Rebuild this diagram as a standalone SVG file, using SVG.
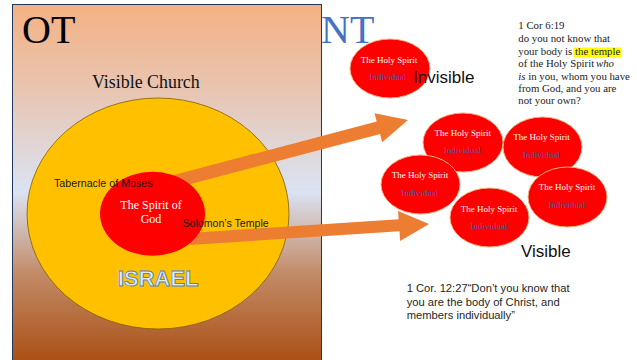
<svg xmlns="http://www.w3.org/2000/svg" width="637" height="360" viewBox="0 0 637 360">
<defs>
<linearGradient id="otGrad" x1="0" y1="0" x2="0" y2="1">
<stop offset="0" stop-color="#F4B183"/>
<stop offset="0.25" stop-color="#E8C6B4"/>
<stop offset="0.52" stop-color="#DAE3F3"/>
<stop offset="0.75" stop-color="#C28A66"/>
<stop offset="1" stop-color="#A94E12"/>
</linearGradient>
<style>
.serif{font-family:"Liberation Serif","Times New Roman",serif;}
.sans{font-family:"Liberation Sans",Arial,sans-serif;}
.hs{fill:#FF0000;stroke:#F4B183;stroke-width:1;}
.hsT{font-family:"Liberation Serif","Times New Roman",serif;font-size:9px;fill:#FFFFFF;text-anchor:middle;}
.hsI{font-family:"Liberation Serif","Times New Roman",serif;font-size:9px;fill:#4A5AA8;text-anchor:middle;}
.arrow{fill:#ED7D31;}
.label{font-family:"Liberation Sans",Arial,sans-serif;fill:#1a1a1a;}
.verse{font-family:"Liberation Serif","Times New Roman",serif;font-size:10.8px;fill:#222222;}
</style>
</defs>
<rect width="637" height="360" fill="#FFFFFF"/>

<g id="ot-panel">
<rect x="12.5" y="4.5" width="309" height="360" fill="url(#otGrad)" stroke="#203864" stroke-width="1"/>
<text class="serif" x="22" y="43" font-size="40" fill="#000000">OT</text>
<text class="serif" x="92" y="88" font-size="17.9" fill="#111111">Visible Church</text>
</g>

<g id="israel">
<ellipse cx="158" cy="213.5" rx="131" ry="115.5" fill="#FFC000" stroke="#7F6000" stroke-width="0.8"/>
<text x="158" y="286" font-family="'Liberation Sans',Arial,sans-serif" font-size="22" font-weight="bold" fill="#DDEBF7" stroke="#4F81C7" stroke-width="0.8" text-anchor="middle">ISRAEL</text>
</g>

<g id="connectors">
<polygon class="arrow" points="168.3,176.5 376.7,121.5 374.6,113.3 408,120 382.2,142.3 380.1,133.9 171.7,189.1"/>
<polygon class="arrow" points="189.6,233 398.6,219.2 398.1,211 429,224 400.1,241 399.5,231.2 190.4,245"/>
</g>

<g id="spirit-of-god">
<ellipse cx="152.5" cy="213.7" rx="52.5" ry="42" fill="#FF0000"/>
<text class="serif" x="151" y="209.3" font-size="12" fill="#FFFFFF" text-anchor="middle">The Spirit of</text>
<text class="serif" x="151" y="222.7" font-size="12" fill="#FFFFFF" text-anchor="middle">God</text>
</g>

<g id="ot-labels">
<text class="label" x="54" y="187" font-size="10.7">Tabernacle of Moses</text>
<text class="label" x="182.5" y="227" font-size="10.6">Solomon’s Temple</text>
</g>

<g id="nt-title">
<text class="serif" x="321" y="43" font-size="40" fill="#4472C4">NT</text>
</g>

<g id="hs-invisible">
<ellipse class="hs" cx="390" cy="68.5" rx="40" ry="29.5"/>
<text class="hsT" x="389" y="63">The Holy Spirit</text>
<text class="hsI" x="388" y="80">Individual</text>
</g>
<g id="invisible-label">
<text class="sans" x="413" y="83" font-size="17" fill="#111111">Invisible</text>
</g>

<g id="hs-a">
<ellipse class="hs" cx="463" cy="142.5" rx="40" ry="29.5"/>
<text class="hsT" x="462.7" y="135.5">The Holy Spirit</text>
<text class="hsI" x="462.5" y="153">Individual</text>
</g>
<g id="hs-b">
<ellipse class="hs" cx="542.5" cy="147" rx="39.5" ry="30"/>
<text class="hsT" x="541.5" y="140">The Holy Spirit</text>
<text class="hsI" x="541.5" y="158">Individual</text>
</g>
<g id="hs-c">
<ellipse class="hs" cx="420.5" cy="184.5" rx="39.5" ry="29.5"/>
<text class="hsT" x="420" y="178">The Holy Spirit</text>
<text class="hsI" x="420" y="196">Individual</text>
</g>
<g id="hs-d">
<ellipse class="hs" cx="489.5" cy="217.5" rx="39.5" ry="29.5"/>
<text class="hsT" x="489" y="212">The Holy Spirit</text>
<text class="hsI" x="489" y="229">Individual</text>
</g>
<g id="hs-e">
<ellipse class="hs" cx="567.5" cy="197" rx="39.5" ry="30"/>
<text class="hsT" x="567" y="190">The Holy Spirit</text>
<text class="hsI" x="567" y="208">Individual</text>
</g>
<g id="visible-label">
<text class="sans" x="521" y="256.7" font-size="17" fill="#111111">Visible</text>
</g>

<g id="verse-1cor6">
<rect x="573.3" y="47.5" width="47.7" height="10" fill="#FFFF00"/>
<text class="verse" x="518.3" y="29.3">1 Cor 6:19</text>
<text class="verse" x="518.3" y="41.7">do you not know that</text>
<text class="verse" x="518.3" y="55">your body is<tspan x="575">the temple</tspan></text>
<text class="verse" x="518.3" y="66.7">of the Holy Spirit<tspan x="596" font-style="italic">who</tspan></text>
<text class="verse" x="518.3" y="80"><tspan font-style="italic">is</tspan> in you, whom you have</text>
<text class="verse" x="518.3" y="92.3">from God, and you are</text>
<text class="verse" x="518.3" y="104.3">not your own?</text>
</g>

<g id="verse-1cor12">
<text class="sans" x="406.7" y="291.7" font-size="11.2" fill="#262626">1 Cor. 12:27“Don’t you know that</text>
<text class="sans" x="406.7" y="305.7" font-size="11.2" fill="#262626">you are the body of Christ, and</text>
<text class="sans" x="406.7" y="319.3" font-size="11.2" fill="#262626">members individually”</text>
</g>
</svg>
